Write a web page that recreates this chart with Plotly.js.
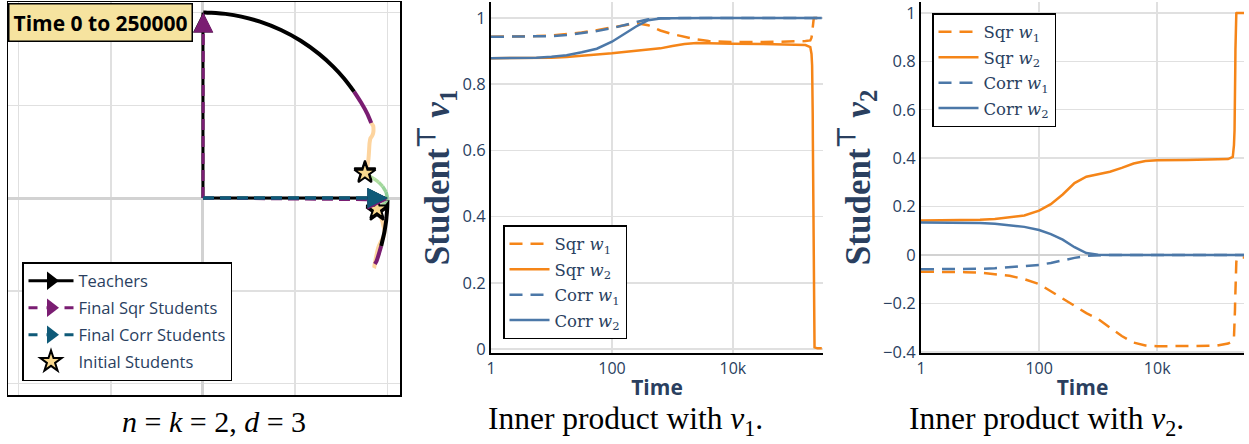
<!DOCTYPE html>
<html><head><meta charset="utf-8">
<script src="https://cdn.plot.ly/plotly-3.0.1.min.js"></script>
<style>html,body{margin:0;padding:0;background:#fff;}#chart{width:1249px;height:444px;}</style>
</head><body><div id="chart"></div>
<script>
// ---------------- data ----------------
const time = [1, 1.78, 3.16, 5.62, 10, 17.8, 31.6, 56.2, 100, 158, 251, 398, 631, 1000, 1585, 2512, 3981, 6310, 10000, 31623, 100000, 158489, 190546, 199526, 204174, 206538, 207730, 208930, 210136, 211349, 212570, 213796, 215032, 216272, 217520, 218776, 221309, 223872, 251189, 295121];
const sqrW1_v1 = [0.943,0.943,0.944,0.945,0.947,0.951,0.956,0.963,0.971,0.978,0.984,0.978,0.962,0.951,0.942,0.935,0.930,0.928,0.927,0.927,0.928,0.930,0.932,0.940,0.954,0.966,0.974,0.982,0.988,0.993,0.995,0.997,0.998,0.999,0.9993,0.9995,0.9998,0.9999,1.0,1.0];
const sqrW1_v2 = [-0.069,-0.069,-0.070,-0.071,-0.073,-0.078,-0.086,-0.100,-0.120,-0.150,-0.180,-0.210,-0.240,-0.265,-0.300,-0.335,-0.362,-0.374,-0.377,-0.377,-0.375,-0.366,-0.356,-0.342,-0.300,-0.259,-0.225,-0.191,-0.156,-0.122,-0.099,-0.078,-0.065,-0.050,-0.038,-0.030,-0.021,-0.015,-0.010,-0.010];
const sqrW2_v1 = [0.878,0.878,0.878,0.879,0.880,0.882,0.885,0.889,0.893,0.897,0.900,0.903,0.908,0.915,0.921,0.924,0.924,0.923,0.922,0.921,0.920,0.918,0.912,0.891,0.857,0.819,0.766,0.707,0.629,0.530,0.423,0.309,0.208,0.122,0.070,0.035,0.012,0.005,0.002,0.002];
const sqrW2_v2 = [0.142,0.142,0.142,0.143,0.145,0.149,0.155,0.163,0.183,0.210,0.250,0.297,0.323,0.332,0.344,0.360,0.378,0.388,0.391,0.392,0.393,0.396,0.405,0.454,0.515,0.574,0.643,0.707,0.777,0.848,0.906,0.951,0.978,0.993,0.998,0.999,1.0,1.0,1.0,1.0];
const corrW1_v1 = [0.943,0.943,0.943,0.944,0.945,0.948,0.953,0.960,0.969,0.978,0.988,0.996,0.999,1.0,1.0,1.0,1.0,1.0,1.0,1.0,1.0,1.0,1.0,1.0,1.0,1.0,1.0,1.0,1.0,1.0,1.0,1.0,1.0,1.0,1.0,1.0,1.0,1.0,1.0,1.0];
const corrW1_v2 = [-0.059,-0.059,-0.059,-0.058,-0.057,-0.055,-0.051,-0.046,-0.041,-0.033,-0.022,-0.012,-0.004,-0.001,0,0,0,0,0,0,0,0,0,0,0,0,0,0,0,0,0,0,0,0,0,0,0,0,0,0];
const corrW2_v1 = [0.878,0.878,0.879,0.880,0.883,0.887,0.896,0.907,0.928,0.952,0.974,0.993,0.998,0.999,1.0,1.0,1.0,1.0,1.0,1.0,1.0,1.0,1.0,1.0,1.0,1.0,1.0,1.0,1.0,1.0,1.0,1.0,1.0,1.0,1.0,1.0,1.0,1.0,1.0,1.0];
const corrW2_v2 = [0.134,0.134,0.134,0.133,0.132,0.129,0.124,0.116,0.103,0.086,0.063,0.032,0.008,0.001,0,0,0,0,0,0,0,0,0,0,0,0,0,0,0,0,0,0,0,0,0,0,0,0,0,0];
const teacherV1 = [1, 0];
const teacherV2 = [0, 1];
const timeTicks = [1, 100, 10000];
const timeTickText = ['1', '100', '10k'];
const seriesNames = ['Sqr <i>w</i><sub>1</sub>', 'Sqr <i>w</i><sub>2</sub>', 'Corr <i>w</i><sub>1</sub>', 'Corr <i>w</i><sub>2</sub>'];
const leftLegendNames = ['Teachers', 'Final Sqr Students', 'Final Corr Students', 'Initial Students'];
const captions = ['<i>n</i> = <i>k</i> = 2, <i>d</i> = 3', 'Inner product with <i>v</i><sub>1</sub>.', 'Inner product with <i>v</i><sub>2</sub>.'];
const titleText = 'Time 0 to 250000';

// ---------------- styles ----------------
const SANS = '"Open Sans", sans-serif';
const SERIF = '"Liberation Serif", serif';
const LSERIF = '"DejaVu Serif", serif';
const NAVY = '#2a3f5f';
const ORANGE = '#f58518', BLUE = '#4c78a8';
const PURPLE = '#7a1d72', TEAL = '#0f5a78';
const SQR_EARLY = '#fdd49e';
const STAR_FILL = '#f9d88e';
const GRID = '#e0e0e0';
const DASH = '13px,8px';

const traces = [];
const last = time.length - 1;
const lt = time.map(t => Math.log10(t));

// ---- left panel ----
for (let i = 0; i < teacherV1.length; i++) {
  traces.push({type:'scatter', mode:'lines', x:[0, teacherV1[i]], y:[0, teacherV2[i]], xaxis:'x', yaxis:'y',
    line:{color:'#000', width:3}, showlegend:false, hoverinfo:'skip'});
}
const sqrFinal = [[sqrW1_v1[last], sqrW1_v2[last]], [sqrW2_v1[last], sqrW2_v2[last]]];
const corrFinal = [[corrW1_v1[last], corrW1_v2[last]], [corrW2_v1[last], corrW2_v2[last]]];
sqrFinal.forEach(p => traces.push({type:'scatter', mode:'lines', x:[0, p[0]], y:[0, p[1]], xaxis:'x', yaxis:'y',
  line:{color:PURPLE, width:3, dash:'11px,6px'}, showlegend:false, hoverinfo:'skip'}));
corrFinal.forEach(p => traces.push({type:'scatter', mode:'lines', x:[0, p[0]], y:[0, p[1]], xaxis:'x', yaxis:'y',
  line:{color:TEAL, width:3, dash:'11px,6px'}, showlegend:false, hoverinfo:'skip'}));

function hexToRgb(h){ return [1,3,5].map(k => parseInt(h.slice(k,k+2),16)); }
function interp(stops, v){
  if (v <= stops[0][0]) return stops[0][1];
  for (let i = 1; i < stops.length; i++) {
    if (v <= stops[i][0]) {
      const f = (v - stops[i-1][0]) / (stops[i][0] - stops[i-1][0]);
      const a = hexToRgb(stops[i-1][1]), b = hexToRgb(stops[i][1]);
      return 'rgb(' + a.map((c,k) => Math.round(c + (b[k]-c)*f)).join(',') + ')';
    }
  }
  return stops[stops.length-1][1];
}
const sqrColor = m => m < 5.27 ? SQR_EARLY : (m < 5.315 ? PURPLE : '#000000');
const corrStops = [[0,'#d4eec0'],[2,'#b6e0a0'],[3,'#78c592'],[5.5,'#1d6f86']];
const corrColor = m => interp(corrStops, m);

function pathTraces(xs, ys, colorFn, width) {
  let cur = null;
  for (let i = 0; i < xs.length - 1; i++) {
    const mid = (lt[i] + lt[i+1]) / 2;
    const c = colorFn(mid);
    if (cur && cur.line.color === c) { cur.x.push(xs[i+1]); cur.y.push(ys[i+1]); }
    else {
      cur = {type:'scatter', mode:'lines', x:[xs[i], xs[i+1]], y:[ys[i], ys[i+1]], xaxis:'x', yaxis:'y',
        line:{color:c, width:width, shape:'spline', smoothing:0.6}, showlegend:false, hoverinfo:'skip'};
      traces.push(cur);
    }
  }
}
pathTraces(sqrW1_v1, sqrW1_v2, sqrColor, 4);
pathTraces(sqrW2_v1, sqrW2_v2, sqrColor, 4);
pathTraces(corrW1_v1, corrW1_v2, corrColor, 3.5);
pathTraces(corrW2_v1, corrW2_v2, corrColor, 3.5);

traces.push({type:'scatter', mode:'markers', x:[sqrW1_v1[0], sqrW2_v1[0], corrW1_v1[0], corrW2_v1[0]],
  y:[sqrW1_v2[0], sqrW2_v2[0], corrW1_v2[0], corrW2_v2[0]], xaxis:'x', yaxis:'y',
  marker:{symbol:'star', size:16, color:STAR_FILL, line:{color:'#000', width:2}}, showlegend:false, hoverinfo:'skip'});

const legSpecs = [
  {name:leftLegendNames[0], mode:'lines+markers', line:{color:'#000', width:3}, marker:{symbol:'triangle-right', size:16, color:'#000'}},
  {name:leftLegendNames[1], mode:'lines+markers', line:{color:PURPLE, width:3, dash:'dash'}, marker:{symbol:'triangle-right', size:16, color:PURPLE}},
  {name:leftLegendNames[2], mode:'lines+markers', line:{color:TEAL, width:3, dash:'dash'}, marker:{symbol:'triangle-right', size:16, color:TEAL}},
  {name:leftLegendNames[3], mode:'markers', marker:{symbol:'star', size:16, color:STAR_FILL, line:{color:'#000', width:2}}}
];
legSpecs.forEach((s, i) => traces.push(Object.assign({type:'scatter', x:[null], y:[null], xaxis:'x', yaxis:'y',
  legend:'legend', legendgroup:'L'+i, hoverinfo:'skip'}, s)));

// ---- middle & right panels ----
const v1Series = [sqrW1_v1, sqrW2_v1, corrW1_v1, corrW2_v1];
const v2Series = [sqrW1_v2, sqrW2_v2, corrW1_v2, corrW2_v2];
const sColors = [ORANGE, ORANGE, BLUE, BLUE];
const sDash = [DASH, 'solid', DASH, 'solid'];
[[v1Series,'x2','y2','legend2'],[v2Series,'x3','y3','legend3']].forEach(([ser, xa, ya, lg]) => {
  ser.forEach((ys, i) => traces.push({type:'scatter', mode:'lines', x:time, y:ys, xaxis:xa, yaxis:ya,
    name:seriesNames[i], legend:lg, legendgroup:lg+i, line:{color:sColors[i], width:2.5, dash:sDash[i]}, hoverinfo:'skip'}));
});

// arrowheads via annotations
const annotations = [];
function head(px, py, color) {
  annotations.push({x:px, y:py, ax:px*0.9, ay:py*0.9, xref:'x', yref:'y', axref:'x', ayref:'y', text:'',
    showarrow:true, arrowhead:2, arrowsize:1.6, arrowwidth:2.5, arrowcolor:color});
}
for (let i = 0; i < teacherV1.length; i++) head(teacherV1[i], teacherV2[i], '#000');
sqrFinal.forEach(p => head(p[0], p[1], PURPLE));
corrFinal.forEach(p => head(p[0], p[1], TEAL));

annotations.push({xref:'paper', yref:'paper', x:8/1249, y:1-3/444, xanchor:'left', yanchor:'top', showarrow:false,
  text:'<b>'+titleText+'</b>', font:{family:SANS, size:21, color:'#000'}, bgcolor:'#f6e39f', bordercolor:'#000', borderwidth:1.5, borderpad:4});
const capX = [214, 625, 1046];
const capSize = [30, 31.5, 31.5];
captions.forEach((c, i) => annotations.push({xref:'paper', yref:'paper', x:capX[i]/1249, y:(444-421)/444,
  xanchor:'center', yanchor:'middle', showarrow:false, text:c, font:{family:SERIF, size:capSize[i], color:'#000'}}));

const baseAxis = {showgrid:true, gridcolor:GRID, gridwidth:1.5, ticks:'', showline:true, linecolor:'#000', linewidth:1.5, fixedrange:true};
const layout = {
  width:1249, height:444, margin:{l:0, r:0, t:0, b:0}, paper_bgcolor:'#fff', plot_bgcolor:'#fff',
  font:{family:SANS, color:NAVY}, hovermode:false, dragmode:false,
  xaxis: Object.assign({}, baseAxis, {domain:[8/1249, 400/1249], anchor:'y', range:[-1.057, 1.068], dtick:0.5, tick0:0,
    showticklabels:false, mirror:true, zeroline:true, zerolinecolor:'#d2d2d2', zerolinewidth:3}),
  yaxis: Object.assign({}, baseAxis, {domain:[(444-395)/444, (444-2)/444], anchor:'x', range:[-1.062, 1.057], dtick:0.5, tick0:0,
    showticklabels:false, mirror:true, zeroline:true, zerolinecolor:'#d2d2d2', zerolinewidth:3}),
  xaxis2: Object.assign({}, baseAxis, {domain:[491/1249, 823/1249], anchor:'y2', type:'log', range:[0, 5.49],
    tickvals:timeTicks, ticktext:timeTickText, tickfont:{size:16}, linewidth:2, zeroline:false,
    title:{text:'<b>Time</b>', font:{family:SANS, size:21, color:NAVY}, standoff:2}}),
  yaxis2: Object.assign({}, baseAxis, {domain:[(444-353)/444, (444-2)/444], anchor:'x2', range:[-0.012, 1.048], dtick:0.2, tick0:0,
    tickfont:{size:16.5}, linewidth:2, zeroline:false,
    title:{text:'<b>Student<sup>⊤</sup> <i>v</i><sub>1</sub></b>', font:{family:SERIF, size:35, color:NAVY}, standoff:2}}),
  xaxis3: Object.assign({}, baseAxis, {domain:[921/1249, 1244/1249], anchor:'y3', type:'log', range:[0, 5.47],
    tickvals:timeTicks, ticktext:timeTickText, tickfont:{size:16}, linewidth:2, zeroline:false,
    title:{text:'<b>Time</b>', font:{family:SANS, size:21, color:NAVY}, standoff:2}}),
  yaxis3: Object.assign({}, baseAxis, {domain:[(444-353)/444, (444-2)/444], anchor:'x3', range:[-0.405, 1.045], dtick:0.2, tick0:-0.4,
    tickfont:{size:16.5}, linewidth:2, zeroline:true, zerolinecolor:'#d2d2d2', zerolinewidth:2.5,
    title:{text:'<b>Student<sup>⊤</sup> <i>v</i><sub>2</sub></b>', font:{family:SERIF, size:35, color:NAVY}, standoff:2}}),
  legend: {x:22/1249, y:1-262/444, xanchor:'left', yanchor:'top', bgcolor:'#fff', bordercolor:'#000', borderwidth:1.5,
    font:{family:SANS, size:16.5, color:NAVY}, traceorder:'grouped', tracegroupgap:2.5, itemwidth:45},
  legend2: {x:503/1249, y:1-225/444, xanchor:'left', yanchor:'top', bgcolor:'#fff', bordercolor:'#000', borderwidth:1.5,
    font:{family:LSERIF, size:16.5, color:NAVY}, traceorder:'grouped', tracegroupgap:1, itemwidth:40},
  legend3: {x:932/1249, y:1-13/444, xanchor:'left', yanchor:'top', bgcolor:'#fff', bordercolor:'#000', borderwidth:1.5,
    font:{family:LSERIF, size:16.5, color:NAVY}, traceorder:'grouped', tracegroupgap:1, itemwidth:40},
  annotations: annotations
};
Plotly.newPlot('chart', traces, layout, {staticPlot:true, displayModeBar:false});
</script></body></html>
